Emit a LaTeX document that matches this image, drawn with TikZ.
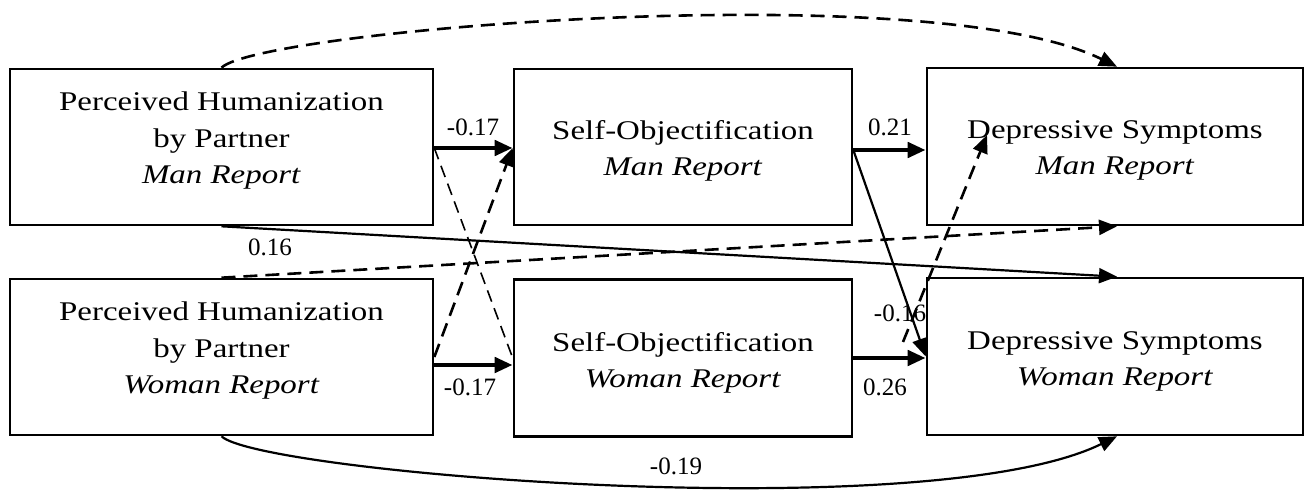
\documentclass[tikz,border=0pt]{standalone}
\usepackage{fontspec}
\setmainfont{Liberation Serif}
\newfontfamily\boxfont{Liberation Serif}[FakeStretch=1.22]
\usetikzlibrary{arrows.meta}
\begin{document}
\begin{tikzpicture}[x=1pt,y=-1pt,
  box/.style={draw, line width=2.6pt, inner sep=0pt},
  boxtext/.style={align=center, font=\boxfont\fontsize{27}{36.5}\selectfont, inner sep=0pt},
  coef/.style={font=\fontsize{25}{30}\selectfont, inner sep=0pt},
  tip/.style={-{Triangle[length=18pt,width=15pt]}},
  thickpath/.style={line width=4.5pt, tip},
  thinpath/.style={line width=2.2pt, tip},
  dashpath/.style={line width=2.6pt, dash pattern=on 14pt off 8pt, tip},
  lightdash/.style={line width=1.6pt, dash pattern=on 12pt off 7pt},
]
\useasboundingbox (0,0) rectangle (1314,492);

% boxes
\node[box, minimum width=423pt, minimum height=156pt] (phm) at (221.5,147) {};
\node[box, minimum width=423pt, minimum height=156pt] (phw) at (221.5,357) {};
\node[box, minimum width=338pt, minimum height=156pt] (som) at (683,147) {};
\node[box, minimum width=338pt, minimum height=157pt] (sow) at (683,358) {};
\node[box, minimum width=376pt, minimum height=157pt] (dsm) at (1115,146.5) {};
\node[box, minimum width=376pt, minimum height=157pt] (dsw) at (1115,356.5) {};

% box texts
\node[boxtext] (phmt) at ([yshift=6pt]phm.center) {Perceived Humanization\\by Partner\\\textit{Man Report}};
\node[boxtext] (phwt) at ([yshift=6pt]phw.center) {Perceived Humanization\\by Partner\\\textit{Woman Report}};
\node[boxtext] (somt) at ([yshift=-4pt]som.center) {Self-Objectification\\\textit{Man Report}};
\node[boxtext] (sowt) at ([yshift=-5pt]sow.center) {Self-Objectification\\\textit{Woman Report}};
\node[boxtext] (dsmt) at ([yshift=-4pt]dsm.center) {Depressive Symptoms\\\textit{Man Report}};
\node[boxtext] (dswt) at ([yshift=-5pt]dsw.center) {Depressive Symptoms\\\textit{Woman Report}};

% free ends of the cross-lagged dashed path
\coordinate (dstart) at (903,342);
\coordinate (dtip) at (987,135);

% paths
\draw[lightdash] ([yshift=-1pt]phm.east) -- (sow.west);
\draw[dashpath] (phw.east) -- ([yshift=-1pt]som.west);
\draw[thickpath] ([yshift=-1pt]phm.east) -- ([yshift=-1pt]phm.east -| som.west);
\draw[thickpath] ([yshift=-8pt]phw.east) -- ([yshift=-8pt]phw.east -| sow.west);
\draw[thickpath] ([yshift=-3pt]som.east) -- ([yshift=-3pt]som.east -| dsm.west);
\draw[thickpath] (sow.east) -- (sow.east -| dsw.west);
\draw[thinpath] ([yshift=-3pt]som.east) -- (dsw.west);
\draw[dashpath] (dstart) -- (dtip);
\draw[thinpath] (phm.south) -- ([xshift=2pt]dsw.north);
\draw[dashpath] (phw.north) -- ([xshift=2pt]dsm.south);
\draw[dashpath] (phm.north) .. controls (260,30) and (930,-25) .. ([xshift=2pt]dsm.north);
\draw[thinpath] (phw.south) .. controls (260,473) and (930,528) .. ([xshift=2pt]dsw.south);

% coefficients
\node[coef] (c1) at (473,127) {-0.17};
\node[coef] (c2) at (470,387) {-0.17};
\node[coef] (c3) at (890,127) {0.21};
\node[coef] (c4) at (885,387) {0.26};
\node[coef] (c5) at (900,313) {-0.16};
\node[coef] (c6) at (270,247) {0.16};
\node[coef] (c7) at (676,466) {-0.19};
\end{tikzpicture}
\end{document}
